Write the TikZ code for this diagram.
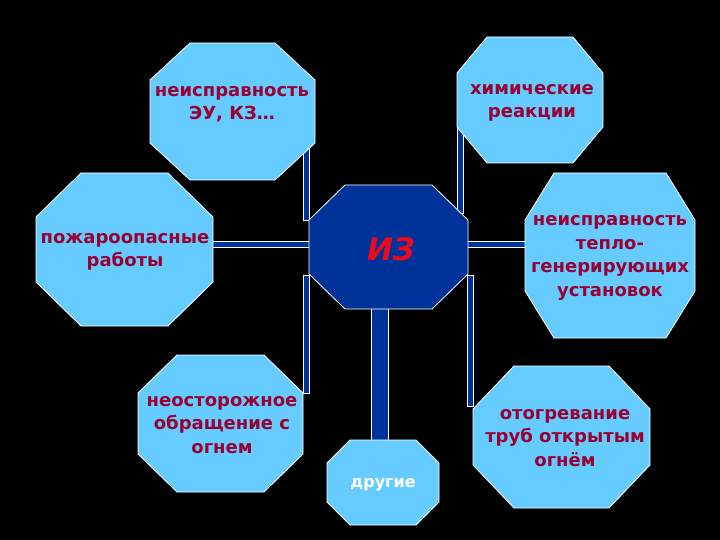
\documentclass[tikz,border=0pt]{standalone}
\usepackage{fontspec}
\setmainfont{DejaVu Sans}
\usetikzlibrary{calc}
\definecolor{lblue}{RGB}{102,204,255}
\definecolor{dblue}{RGB}{0,51,153}
\definecolor{crim}{RGB}{153,0,51}
\definecolor{izred}{RGB}{235,10,30}
\newcommand\octo[4]{%
  \draw[octline, fill=#2] ([xshift=#3]#1.north west) -- ([xshift=-#3]#1.north east)
    -- ([yshift=-#4]#1.north east) -- ([yshift=#4]#1.south east)
    -- ([xshift=-#3]#1.south east) -- ([xshift=#3]#1.south west)
    -- ([yshift=#4]#1.south west) -- ([yshift=-#4]#1.north west) -- cycle;}
\begin{document}
\begin{tikzpicture}[x=1pt,y=-1pt,
  frame/.style={inner sep=0pt, outer sep=0pt},
  octline/.style={draw=white, line width=0.8pt, line join=miter},
  bar/.style={fill=dblue, draw=white, line width=0.7pt},
  lbl/.style={text=crim, align=center, inner sep=0pt,
    font=\bfseries\fontsize{18}{23.5}\selectfont}]
\fill[black] (0,0) rectangle (720,540);
\useasboundingbox (0,0) rectangle (720,540);
% frames
\node[frame, minimum width=159pt, minimum height=124pt] (iz) at (388.5,247) {};
\node[frame, minimum width=165pt, minimum height=137pt] (eu) at (232.5,111.5) {};
\node[frame, minimum width=146pt, minimum height=126pt] (chem) at (530,100) {};
\node[frame, minimum width=170pt, minimum height=165pt] (teplo) at (610,255.5) {};
\node[frame, minimum width=177pt, minimum height=153pt] (pozh) at (124.5,249.5) {};
\node[frame, minimum width=165pt, minimum height=137pt] (neost) at (220.5,423.5) {};
\node[frame, minimum width=177pt, minimum height=142pt] (otog) at (561.5,437) {};
\node[frame, minimum width=112pt, minimum height=85pt] (drug) at (383,482.5) {};
% connectors
\draw[bar] ($(pozh.east)+(-2,-8.5)$) rectangle ($(iz.west)+(1,0)$);
\draw[bar] ($(iz.east)+(-1,-6)$) rectangle ($(teplo.west)+(1,-8.5)$);
\draw[bar] ($(iz.north west)+(-6,-37)$) rectangle ($(iz.north west)+(0,35)$);
\draw[bar] ($(chem.south west)+(0,-35)$) rectangle ($(iz.north east)+(-5,28)$);
\draw[bar] ($(iz.south west)+(-6,-34)$) rectangle ($(neost.north east)+(6,38)$);
\draw[bar] ($(iz.south east)+(-1,-34)$) rectangle ($(otog.north west)+(0,40)$);
\draw[bar] ($(iz.south)+(-17,-2)$) rectangle ($(drug.north)+(5,2)$);
% octagons
\octo{iz}{dblue}{36pt}{35pt}
\octo{eu}{lblue}{40pt}{37pt}
\octo{chem}{lblue}{30pt}{36pt}
\octo{teplo}{lblue}{29pt}{47pt}
\octo{pozh}{lblue}{45pt}{44pt}
\octo{neost}{lblue}{39pt}{38pt}
\octo{otog}{lblue}{41pt}{43pt}
\octo{drug}{lblue}{23pt}{23pt}
% texts
\node[text=izred, inner sep=0pt, font=\bfseries\itshape\fontsize{31}{31}\selectfont] (izt) at (391,249) {ИЗ};
\node[lbl] (eut) at (232,104) {неисправность\\ЭУ, КЗ…};
\node[lbl] (chemt) at (532,103) {химические\\реакции};
\node[lbl] (teplot) at (610,258) {неисправность\\тепло-\\генерирующих\\установок};
\node[lbl] (pozht) at (125,252) {пожароопасные\\работы};
\node[lbl] (neostt) at (222,425) {неосторожное\\обращение с\\огнем};
\node[lbl] (otogt) at (565,438) {отогревание\\труб открытым\\огнём};
\node[text=white, inner sep=0pt, font=\bfseries\fontsize{16}{20}\selectfont] (drugt) at (383,485) {другие};
\end{tikzpicture}
\end{document}
